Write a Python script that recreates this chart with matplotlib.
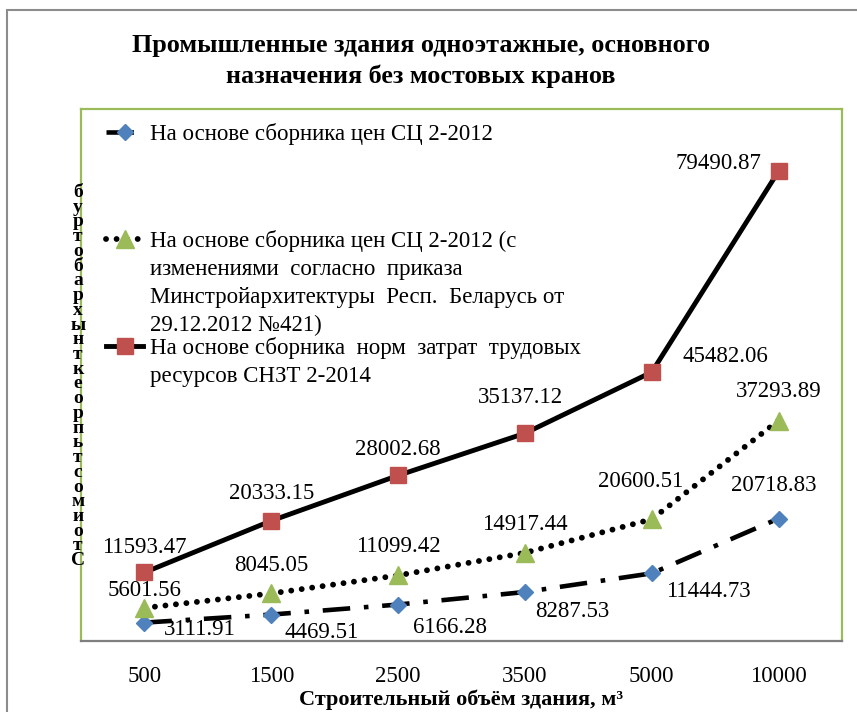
import matplotlib
matplotlib.use("Agg")
import matplotlib.pyplot as plt
from matplotlib.patches import Rectangle
from matplotlib.lines import Line2D

plt.rcParams['font.family'] = ['Liberation Serif', 'DejaVu Serif']

# data
volumes = ['500', '1500', '2500', '3500', '5000', '10000']
sc_2012 = [3111.91, 4469.51, 6166.28, 8287.53, 11444.73, 20718.83]
sc_2012_mod = [5601.56, 8045.05, 11099.42, 14917.44, 20600.51, 37293.89]
snzt_2014 = [11593.47, 20333.15, 28002.68, 35137.12, 45482.06, 79490.87]

label_sc = 'На основе сборника цен СЦ 2-2012'
label_mod = ['На основе сборника цен СЦ 2-2012 (с',
             'изменениями  согласно  приказа',
             'Минстройархитектуры  Респ.  Беларусь от',
             '29.12.2012 №421)']
label_snzt = ['На основе сборника  норм  затрат  трудовых',
              'ресурсов СНЗТ 2-2014']

title = 'Промышленные здания одноэтажные, основного\nназначения без мостовых кранов'
xlabel = 'Строительный объём здания, м³'
ylabel = 'Стоимость проектных работ руб'

# label offsets in pixels (dx, dy)
off_sc = [(55, -7), (50, -18), (52, -23), (47, -19), (57, -18), (-5, 33)]
off_mod = [(0, 17), (0, 28), (0, 29), (0, 28), (-11, 38), (0, 29)]
off_snzt = [(0, 25), (0, 27), (0, 26), (-4, 36), (74, 16), (-60, 8)]

blue, green, red = '#4F81BD', '#9BBB59', '#C0504D'
W, H = 857, 712
fs = 16.5

fig = plt.figure(figsize=(W / 100, H / 100), dpi=100)
ax = fig.add_axes([81 / W, 1 - 641 / H, (842 - 81) / W, (641 - 109) / H])

dashdot = (0, (6, 3, 1, 3))
dotted = (0, (0.01, 1.8))

x = range(len(volumes))
ax.plot(x, sc_2012, color='black', lw=3.3, linestyle=dashdot,
        marker='D', ms=8.5, mfc=blue, mec=blue, zorder=3)
ax.plot(x, sc_2012_mod, color='black', lw=4.2, linestyle=dotted,
        dash_capstyle='round', marker='^', ms=13, mfc=green, mec=green, zorder=3)
ax.plot(x, snzt_2014, color='black', lw=3.5, marker='s', ms=11,
        mfc=red, mec=red, zorder=3)

for vals, offs in [(sc_2012, off_sc), (sc_2012_mod, off_mod), (snzt_2014, off_snzt)]:
    for i, (v, o) in enumerate(zip(vals, offs)):
        ax.annotate(f'{v:.2f}', (i, v), xytext=o, textcoords='offset pixels',
                    ha='center', va='center', fontsize=fs, zorder=4)

ax.set_xlim(-0.5, len(volumes) - 0.5)
ax.set_ylim(0, 90000)
ax.set_xticks(list(x))
ax.set_xticklabels(volumes, fontsize=fs)
ax.tick_params(axis='x', length=0, pad=18)
ax.set_yticks([])
for s in ['left', 'top', 'right']:
    ax.spines[s].set_color(green)
    ax.spines[s].set_linewidth(1.6)
ax.spines['bottom'].set_color('#7F7F7F')
ax.spines['bottom'].set_linewidth(1.6)

ax.set_xlabel(xlabel, fontsize=16, fontweight='bold', labelpad=2)

fig.text(421 / W, 1 - 61 / H, title, ha='center', va='center', fontsize=18.8,
         fontweight='bold', linespacing=1.4)

# stacked y label (reversed letters, as in the original)
letters = [c for c in ylabel[::-1] if c != ' ']
fig.text(78 / W, 1 - 184 / H, '\n'.join(letters), ha='center', va='top',
         fontsize=14, fontweight='bold', linespacing=0.825, multialignment='center')

# legend (first line of each entry, continuation lines added below)
handles = [
    Line2D([], [], color='black', lw=3.3, linestyle=dashdot,
           marker='D', ms=8.5, mfc=blue, mec=blue),
    Line2D([], [], color='black', lw=4.2, linestyle=dotted,
           dash_capstyle='round', marker='^', ms=13, mfc=green, mec=green),
    Line2D([], [], color='black', lw=3.5, marker='s', ms=11, mfc=red, mec=red),
]
leg = ax.legend(handles, [label_sc, label_mod[0], label_snzt[0]],
                loc='upper left', bbox_to_anchor=(95 / W, 1 - 112 / H),
                bbox_transform=fig.transFigure, frameon=False, fontsize=fs,
                handlelength=1.6, handletextpad=0.3, labelspacing=3.7,
                borderpad=0, numpoints=1)

fig.canvas.draw()
texts = leg.get_texts()
for t, rest in [(texts[1], label_mod[1:]), (texts[2], label_snzt[1:])]:
    bb = t.get_window_extent()
    for j, line in enumerate(rest):
        fig.text(bb.x0 / W, (bb.y0 + bb.y1) / 2 / H - (j + 1) * 28 / H, line,
                 ha='left', va='center', fontsize=fs)

fig.add_artist(Rectangle((7 / W, -0.1), 1.2, 1.1 - 10 / H, transform=fig.transFigure,
                         fill=False, ec='#8C8C8C', lw=1.5))

fig.savefig('out.png', dpi=100)
